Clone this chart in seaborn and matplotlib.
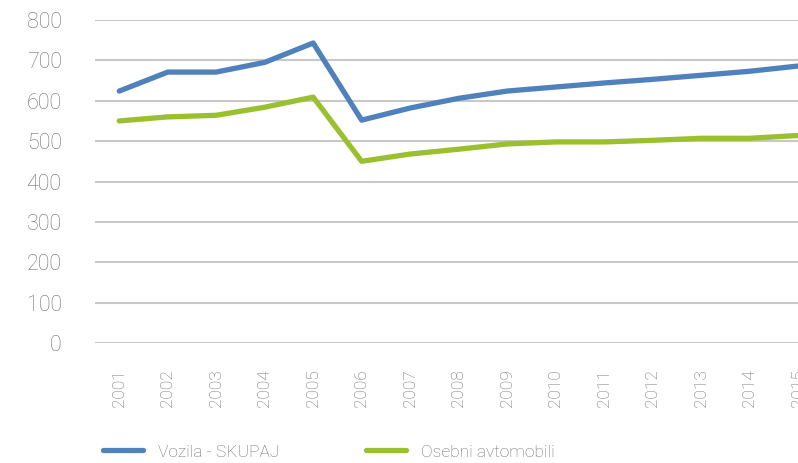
import pandas as pd
import matplotlib.pyplot as plt
import seaborn as sns

# ── Data ─────────────────────────────────────────────
years = [str(y) for y in range(2001, 2016)]
vozila_skupaj = [624, 671, 671, 695, 743, 552, 582, 606, 624, 634, 644, 653, 663, 673, 686]
osebni_avtomobili = [550, 560, 564, 584, 609, 450, 468, 480, 493, 498, 498, 502, 507, 507, 514]
series_names = ['Vozila - SKUPAJ', 'Osebni avtomobili']
colors = ['#4F81BD', '#9BC02F']

df = pd.DataFrame({
    'leto': years * 2,
    'vrednost': vozila_skupaj + osebni_avtomobili,
    'serija': [series_names[0]] * len(years) + [series_names[1]] * len(years),
})
df['x'] = df['leto'].map({y: i for i, y in enumerate(years)})

sns.set_theme(style='white')
plt.rcParams['font.family'] = ['Roboto', 'DejaVu Sans']
plt.rcParams['font.weight'] = 'light'
text_color = '#6E6E6E'

fig = plt.figure(figsize=(7.98, 4.63), dpi=100)
ax = fig.add_axes([95 / 798, 1 - 343 / 463, 1 - 95 / 798, 323 / 463])

sns.lineplot(data=df, x='x', y='vrednost', hue='serija', palette=colors,
             linewidth=3.8, ax=ax, legend=False, solid_capstyle='round')

ax.set_ylim(0, 800)
ax.set_xlim(-0.5, 14.0)
ax.set_yticks(range(0, 801, 100))
ax.set_xticks(range(len(years)))
ax.set_xticklabels(years, rotation=90)
ax.tick_params(axis='both', length=0, labelcolor=text_color)
ax.tick_params(axis='y', pad=24, labelsize=15.5)
ax.tick_params(axis='x', pad=19, labelsize=12.5)
ax.grid(axis='y', color='#C8C8C8', linewidth=1.5)
ax.set_axisbelow(True)
for s in ax.spines.values():
    s.set_visible(False)
ax.set_xlabel('')
ax.set_ylabel('')

# ── Legend ───────────────────────────────────────────
handles = [plt.Line2D([], [], color=c, linewidth=3.8, solid_capstyle='round') for c in colors]
leg = fig.legend(handles, series_names, loc='center left', bbox_to_anchor=(103 / 798, 1 - 452 / 463),
                 ncol=2, frameon=False, fontsize=12.5, handlelength=2.3,
                 handletextpad=0.85, columnspacing=5.0, borderaxespad=0, borderpad=0)
for t in leg.get_texts():
    t.set_color(text_color)

plt.savefig('out.png', dpi=100)
plt.close()
